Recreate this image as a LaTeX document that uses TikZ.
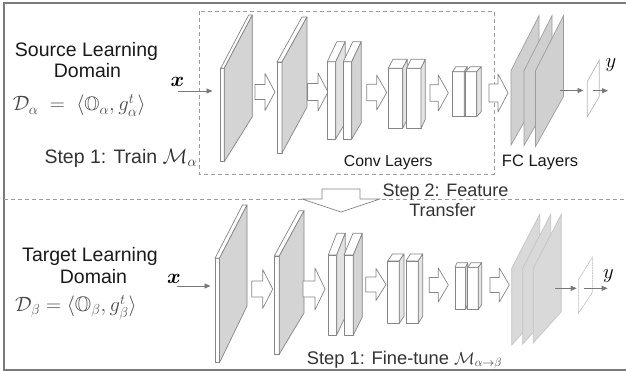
\documentclass[tikz,border=0pt]{standalone}
\usepackage{amsmath,amssymb,bm}
\usepackage{fontspec}
\setmainfont{Liberation Sans}
\usetikzlibrary{arrows.meta}
\definecolor{framec}{HTML}{7A7A7A}
\definecolor{dashc}{HTML}{9C9C9C}
\definecolor{edgec}{HTML}{858585}
\definecolor{faceA}{HTML}{D4D4D4}
\definecolor{faceB}{HTML}{E2E2E2}
\definecolor{faceC}{HTML}{E4E4E4}
\definecolor{fcA}{HTML}{D0D0D0}
\definecolor{fcB}{HTML}{D9D9D9}
\definecolor{fcedgeB}{HTML}{C4C4C4}
\definecolor{outedge}{HTML}{B8B8B8}
\definecolor{txt}{HTML}{1A1A1A}
\definecolor{txtg}{HTML}{333333}
\definecolor{mathc}{HTML}{4A4A4A}
\newcommand{\nnslab}[8]{%
  \filldraw[edge, fill=white] (#1,#3) rectangle (#2,#4);
  \filldraw[edge, fill=white] (#1,#3) -- (#2,#3) -- ({#2+#5},{#3+#6}) -- ({#1+#5},{#3+#6}) -- cycle;
  \filldraw[edge, fill=#8] (#2,#3) -- ({#2+#5},{#3+#6}) -- ({#2+#5},{#4+#7}) -- (#2,#4) -- cycle;}
\newcommand{\harrow}[5]{%
  \filldraw[edge, fill=white] (#1,{#2-#5}) -- ({#3-10},{#2-#5}) -- ({#3-10},{#2-#4}) -- (#3,#2)
    -- ({#3-10},{#2+#4}) -- ({#3-10},{#2+#5}) -- (#1,{#2+#5}) -- cycle;}
\newcommand{\fcsheet}[8]{%
  \filldraw[draw=#8, line width=0.7pt, fill=#7] (#1,#2) -- ({#1+#4},{#2+#5}) -- ({#1+#4},{#3+#6}) -- (#1,#3) -- cycle;}
\begin{document}
\begin{tikzpicture}[x=1pt,y=-1pt,
  edge/.style={draw=edgec, line width=0.7pt, line join=round},
  lbl/.style={inner sep=0pt, text=txt, font=\fontsize{19.5}{23}\selectfont},
  mth/.style={inner sep=0pt, text=mathc, font=\fontsize{19.5}{23}\selectfont},
  thin arrow/.style={draw=edgec!90!black, line width=0.9pt, -{Triangle[length=6pt,width=5pt]}},
  dashline/.style={draw=dashc, line width=0.8pt, dash pattern=on 4pt off 3pt}]
\useasboundingbox (0,0) rectangle (626,371);
\fill[white] (0,0) rectangle (626,371);
% frame and separators (right edge lies outside the picture)
\draw[draw=framec, line width=1.1pt] (630,3) -- (4,3) -- (4,370) -- (630,370);
\draw[dashline] (4,199) -- (626,199);
\draw[dashline] (199,11) rectangle (494,174);
% ---------- top network ----------
\nnslab{220.7}{224.3}{68.3}{161.7}{28}{-53.3}{-45}{faceA}
\harrow{255}{92}{275}{18.5}{7.5}
\nnslab{277}{282}{62}{153}{25}{-45}{-46}{faceA}
\harrow{307.5}{92}{328}{19}{8.5}
\nnslab{327.3}{335.7}{61.7}{139}{9.5}{-20}{-16}{faceB}
\nnslab{343.3}{351.7}{61.7}{139}{9.5}{-20}{-16}{faceA}
\harrow{366.7}{92.5}{386.7}{17.5}{8.3}
\nnslab{388.3}{402.7}{68.3}{128.3}{4.6}{-9}{-9}{faceC}
\nnslab{406.7}{421}{68.3}{128.3}{4.3}{-9}{-9}{faceC}
\harrow{430}{93}{448.3}{18}{8.3}
\nnslab{452.7}{464.3}{71.7}{116.7}{3}{-5}{-5}{faceC}
\nnslab{465.7}{476.7}{71.7}{116.7}{4.5}{-5}{-5}{faceC}
\harrow{489}{93}{508}{19}{9}
\fcsheet{511}{70.7}{145}{28}{-55}{-49}{fcA}{edgec!80}
\fcsheet{524}{70.7}{145.5}{28}{-55}{-49}{fcA}{edgec!80}
\fcsheet{535.5}{70.7}{146.5}{28}{-55}{-50}{fcA}{edgec!80}
\filldraw[draw=outedge, line width=0.7pt, fill=white] (587.3,81.7) -- (599.3,60) -- (599.3,96.7) -- (587.3,116.7) -- cycle;
\coordinate (fcT) at (560,90.5);
\coordinate (outTin) at (583.5,90.5);
\coordinate (outTout) at (593,90.7);
\coordinate (yTend) at (608,90.7);
\draw[thin arrow] (fcT) -- (outTin);
\draw[thin arrow] (outTout) -- (yTend);
\node[mth, text=black] (yT) at (611,65.5) {$y$};
\node[mth, text=black] (xT) at (177.5,82) {$\bm{x}$};
\coordinate (xTs) at (178,91);
\coordinate (xTe) at (212.5,91);
\draw[thin arrow] (xTs) -- (xTe);
% ---------- bottom network ----------
\nnslab{215}{219.5}{258.3}{362.7}{27.5}{-53.3}{-56.7}{faceA}
\harrow{251.7}{289}{272.7}{19.5}{8}
\nnslab{274.3}{279.3}{256}{354}{24.7}{-45.3}{-41}{faceA}
\harrow{303}{289}{325}{21}{8}
\nnslab{328.3}{336.7}{255}{335}{8.5}{-21.7}{-18}{faceB}
\nnslab{344}{353.3}{255}{335}{9}{-21.7}{-18}{faceA}
\harrow{365.7}{284.5}{386}{16}{7.5}
\nnslab{387.7}{399.3}{261}{323.3}{4.7}{-7}{-7}{faceC}
\nnslab{406}{418.3}{261}{323.3}{4.4}{-7}{-7}{faceC}
\harrow{429.3}{285}{448.3}{17}{7.5}
\nnslab{455}{465.7}{267.3}{309.3}{2}{-4.6}{-4.6}{faceC}
\nnslab{467.7}{478.3}{267.3}{309.3}{3.4}{-4.6}{-4.6}{faceC}
\harrow{490}{285}{509.3}{17}{7.5}
\fcsheet{511.7}{268.3}{345}{28}{-54}{-31}{fcB}{fcedgeB}
\fcsheet{522.7}{268.3}{344}{28}{-54}{-31}{fcB}{fcedgeB}
\fcsheet{533.3}{268.3}{342.7}{28}{-54}{-31}{fcB}{fcedgeB}
\filldraw[draw=outedge, line width=0.6pt, dash pattern=on 2pt off 0.6pt, fill=white] (578.3,280) -- (592.3,257.3) -- (592.3,292.7) -- (578.3,313.3) -- cycle;
\coordinate (fcB) at (555,288.3);
\coordinate (outBin) at (576.7,288.3);
\coordinate (outBout) at (584,288.3);
\coordinate (yBend) at (607.7,288.3);
\draw[thin arrow] (fcB) -- (outBin);
\draw[thin arrow] (outBout) -- (yBend);
\node[mth, text=black] (yB) at (608.5,276) {$y$};
\node[mth, text=black] (xB) at (174,279) {$\bm{x}$};
\coordinate (xBs) at (177,286);
\coordinate (xBe) at (210.5,286);
\draw[thin arrow] (xBs) -- (xBe);
% ---------- transfer arrow ----------
\filldraw[edge, fill=white] (322,189) -- (360,189) -- (360,199) -- (380,199) -- (341,212) -- (302,199) -- (322,199) -- cycle;
% ---------- texts ----------
\node[lbl, anchor=base] (srcA) at (86.5,57) {Source Learning};
\node[lbl, anchor=base] (srcB) at (87.5,78) {Domain};
\node[mth, anchor=base west] (srcD) at (12.7,111) {$\mathcal{D}_{\alpha}\;=\;\langle \mathbb{O}_{\alpha}, g_{\alpha}^{t}\rangle$};
\node[lbl, anchor=base west, text=txtg] (stepA) at (44.3,163.3) {Step 1: Train $\mathcal{M}_{\alpha}$};
\node[lbl, anchor=base, font=\fontsize{15.8}{19}\selectfont] (conv) at (388.3,166.7) {Conv Layers};
\node[lbl, anchor=base, font=\fontsize{16.5}{19}\selectfont] (fcl) at (540,166.7) {FC Layers};
\node[lbl, anchor=base, text=txtg, font=\fontsize{18}{21}\selectfont] (st2a) at (445.5,196.5) {Step 2: Feature};
\node[lbl, anchor=base, text=txtg, font=\fontsize{18}{21}\selectfont] (st2b) at (442.5,216.7) {Transfer};
\node[lbl, anchor=base] (tgtA) at (90,261.7) {Target Learning};
\node[lbl, anchor=base] (tgtB) at (93.5,283.3) {Domain};
\node[mth, anchor=base west, font=\fontsize{21}{24}\selectfont] (tgtD) at (15,311.7) {$\mathcal{D}_{\beta} = \langle \mathbb{O}_{\beta}, g_{\beta}^{t}\rangle$};
\node[lbl, anchor=base west, text=txtg, font=\fontsize{18.3}{21}\selectfont] (stepB) at (306.7,364.3) {Step 1: Fine-tune $\mathcal{M}_{\alpha\rightarrow\beta}$};
\end{tikzpicture}
\end{document}
